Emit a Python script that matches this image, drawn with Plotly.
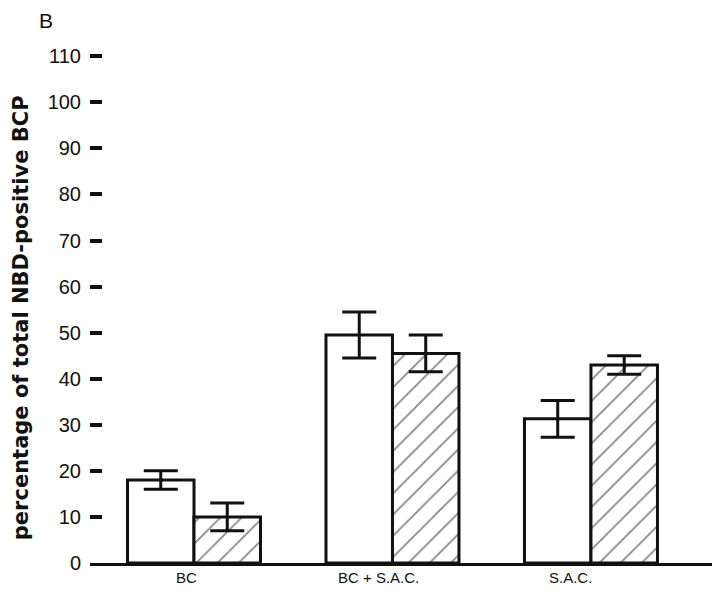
import plotly.graph_objects as go

# ---- data ----
categories = ["BC", "BC + S.A.C.", "S.A.C."]
open_values = [18, 49.5, 31.3]
open_errors = [2, 5, 4]
hatched_values = [10, 45.5, 43]
hatched_errors = [3, 4, 2]
y_tick_values = [0, 10, 20, 30, 40, 50, 60, 70, 80, 90, 100, 110]
y_tick_labels = ["0", "10", "20", "30", "40", "50", "60", "70", "80", "90", "100", "110"]
y_title = "percentage of total NBD-positive BCP"
panel_label = "B"

# ---- style ----
label_xshift = [-8, -14, -20]
FONT = "Liberation Sans, Arial, sans-serif"
NARROW = "Liberation Sans Narrow, Liberation Sans, Arial, sans-serif"
BOLD = "DejaVu Sans, Liberation Sans, Arial, sans-serif"
INK = "#111111"

fig = go.Figure()
fig.add_trace(go.Bar(
    x=categories, y=open_values,
    marker=dict(color="white", line=dict(color=INK, width=3)),
    error_y=dict(type="data", array=open_errors, color=INK, thickness=3, width=17),
    showlegend=False,
))
fig.add_trace(go.Bar(
    x=categories, y=hatched_values,
    marker=dict(color="white", line=dict(color=INK, width=3),
                pattern=dict(shape="/", size=15, solidity=0.12, fgcolor=INK, bgcolor="white")),
    error_y=dict(type="data", array=hatched_errors, color=INK, thickness=3, width=17),
    showlegend=False,
))

annotations = []
for cat, sh in zip(categories, label_xshift):
    annotations.append(dict(
        x=cat, xref="x", y=0, yref="paper", xanchor="center", yanchor="middle",
        yshift=-14, xshift=sh,
        text=cat, showarrow=False, font=dict(family=FONT, size=15, color=INK)))
annotations.append(dict(
    x=0, xref="paper", xshift=-69, y=0.481, yref="paper", xanchor="center", yanchor="middle",
    textangle=-90, text=y_title, showarrow=False,
    font=dict(family=BOLD, size=21, color=INK, weight="bold")))
annotations.append(dict(
    x=0, xref="paper", xshift=-44, y=1, yref="paper", yshift=46,
    xanchor="center", yanchor="top", borderpad=0,
    text=panel_label, showarrow=False, font=dict(family=NARROW, size=21, color=INK)))

fig.update_layout(
    width=712, height=601,
    margin=dict(l=82, r=3, t=46, b=46),
    paper_bgcolor="white", plot_bgcolor="white",
    barmode="group", bargap=0.33, bargroupgap=0,
    annotations=annotations,
    xaxis=dict(type="category", range=[-0.524, 2.635], showline=True, linewidth=3,
               linecolor=INK, ticks="", showticklabels=False, showgrid=False, zeroline=False),
    yaxis=dict(range=[0, 110.5], tickvals=y_tick_values, ticktext=y_tick_labels,
               ticks="inside", ticklen=12, tickwidth=3.5, tickcolor=INK,
               showline=False, showgrid=False, zeroline=False,
               ticklabelstandoff=8, tickfont=dict(family=FONT, size=20, color=INK)),
)

fig.write_html("out.html")
